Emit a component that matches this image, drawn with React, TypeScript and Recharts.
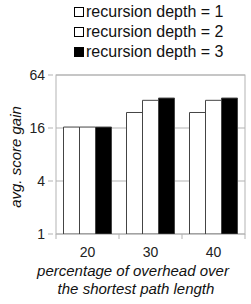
import React from 'react';
import { BarChart, Bar, XAxis, YAxis, CartesianGrid, ReferenceLine } from 'recharts';

const categories = ['20', '30', '40'];
const depth1 = [16.4, 24, 24];
const depth2 = [16.4, 33, 33];
const depth3 = [16.4, 35, 35];
const yTicks = [1, 4, 16, 64];
const seriesNames = ['recursion depth = 1', 'recursion depth = 2', 'recursion depth = 3'];
const seriesFills = ['#ffffff', '#ffffff', '#000000'];

const data = categories.map((c, i) => ({ cat: c, d1: depth1[i], d2: depth2[i], d3: depth3[i] }));

const FONT = '"Liberation Sans", Arial, sans-serif';
const GRID = '#b3b3b3';

const XTick = (props: any) => {
  const { x, y, payload, index } = props;
  const half = 31.5;
  return (
    <g>
      <line x1={x - half} y1={y - 8} x2={x - half} y2={y - 3} stroke={GRID} />
      {index === categories.length - 1 && (
        <line x1={x + half} y1={y - 8} x2={x + half} y2={y - 3} stroke={GRID} />
      )}
      <text x={x} y={y + 15} textAnchor="middle" fontSize={14} fontFamily={FONT} fill="#222">
        {payload.value}
      </text>
    </g>
  );
};

const YTick = (props: any) => {
  const { x, y, payload } = props;
  return (
    <g>
      <line x1={x} y1={y} x2={x + 5} y2={y} stroke={GRID} />
      <text x={x - 3} y={y + 5} textAnchor="end" fontSize={14} fontFamily={FONT} fill="#222">
        {payload.value}
      </text>
    </g>
  );
};

const XLabel = () => (
  <g>
    <text x={133} y={276} textAnchor="middle" fontSize={15} fontStyle="italic" fontFamily={FONT} fill="#111">
      percentage of overhead over
    </text>
    <text x={136} y={294} textAnchor="middle" fontSize={15} fontStyle="italic" fontFamily={FONT} fill="#111">
      the shortest path length
    </text>
  </g>
);

const YLabel = () => (
  <text
    x={21}
    y={157}
    transform="rotate(-90 21 157)"
    textAnchor="middle"
    fontSize={15}
    fontStyle="italic"
    fontFamily={FONT}
    fill="#111"
  >
    avg. score gain
  </text>
);

export default function App() {
  return (
    <div style={{ position: 'absolute', left: 0, top: 0, width: 251, height: 304, background: '#fff' }}>
      <div style={{ position: 'absolute', left: 74, top: 2, fontFamily: FONT, fontSize: 16, color: '#111' }}>
        {seriesNames.map((n, i) => (
          <div key={n} style={{ display: 'flex', alignItems: 'center', height: 20 }}>
            <span
              style={{
                display: 'inline-block',
                width: 8,
                height: 8,
                border: '1px solid #000',
                background: seriesFills[i],
                marginRight: 2,
              }}
            />
            <span>{n}</span>
          </div>
        ))}
      </div>
      <BarChart
        width={251}
        height={304}
        data={data}
        margin={{ top: 75, right: 6, left: 0, bottom: 0 }}
        barCategoryGap={7.5}
        barGap={0}
        style={{ position: 'absolute', left: 0, top: 0 }}
      >
        <CartesianGrid stroke={GRID} vertical={false} horizontalValues={yTicks} />
        <XAxis
          dataKey="cat"
          height={70}
          axisLine={false}
          tickLine={false}
          tick={<XTick />}
          interval={0}
          label={<XLabel />}
        />
        <YAxis
          scale="log"
          domain={[1, 64]}
          ticks={yTicks}
          allowDataOverflow
          width={56}
          axisLine={false}
          tickLine={false}
          tick={<YTick />}
          label={<YLabel />}
        />
        <ReferenceLine x="20" stroke="none" />
        <Bar dataKey="d1" fill={seriesFills[0]} stroke="#444" strokeWidth={1} isAnimationActive={false} />
        <Bar dataKey="d2" fill={seriesFills[1]} stroke="#444" strokeWidth={1} isAnimationActive={false} />
        <Bar dataKey="d3" fill={seriesFills[2]} stroke="#444" strokeWidth={1} isAnimationActive={false} />
        <rect x={56} y={75} width={189} height={159} fill="none" stroke={GRID} />
      </BarChart>
    </div>
  );
}
